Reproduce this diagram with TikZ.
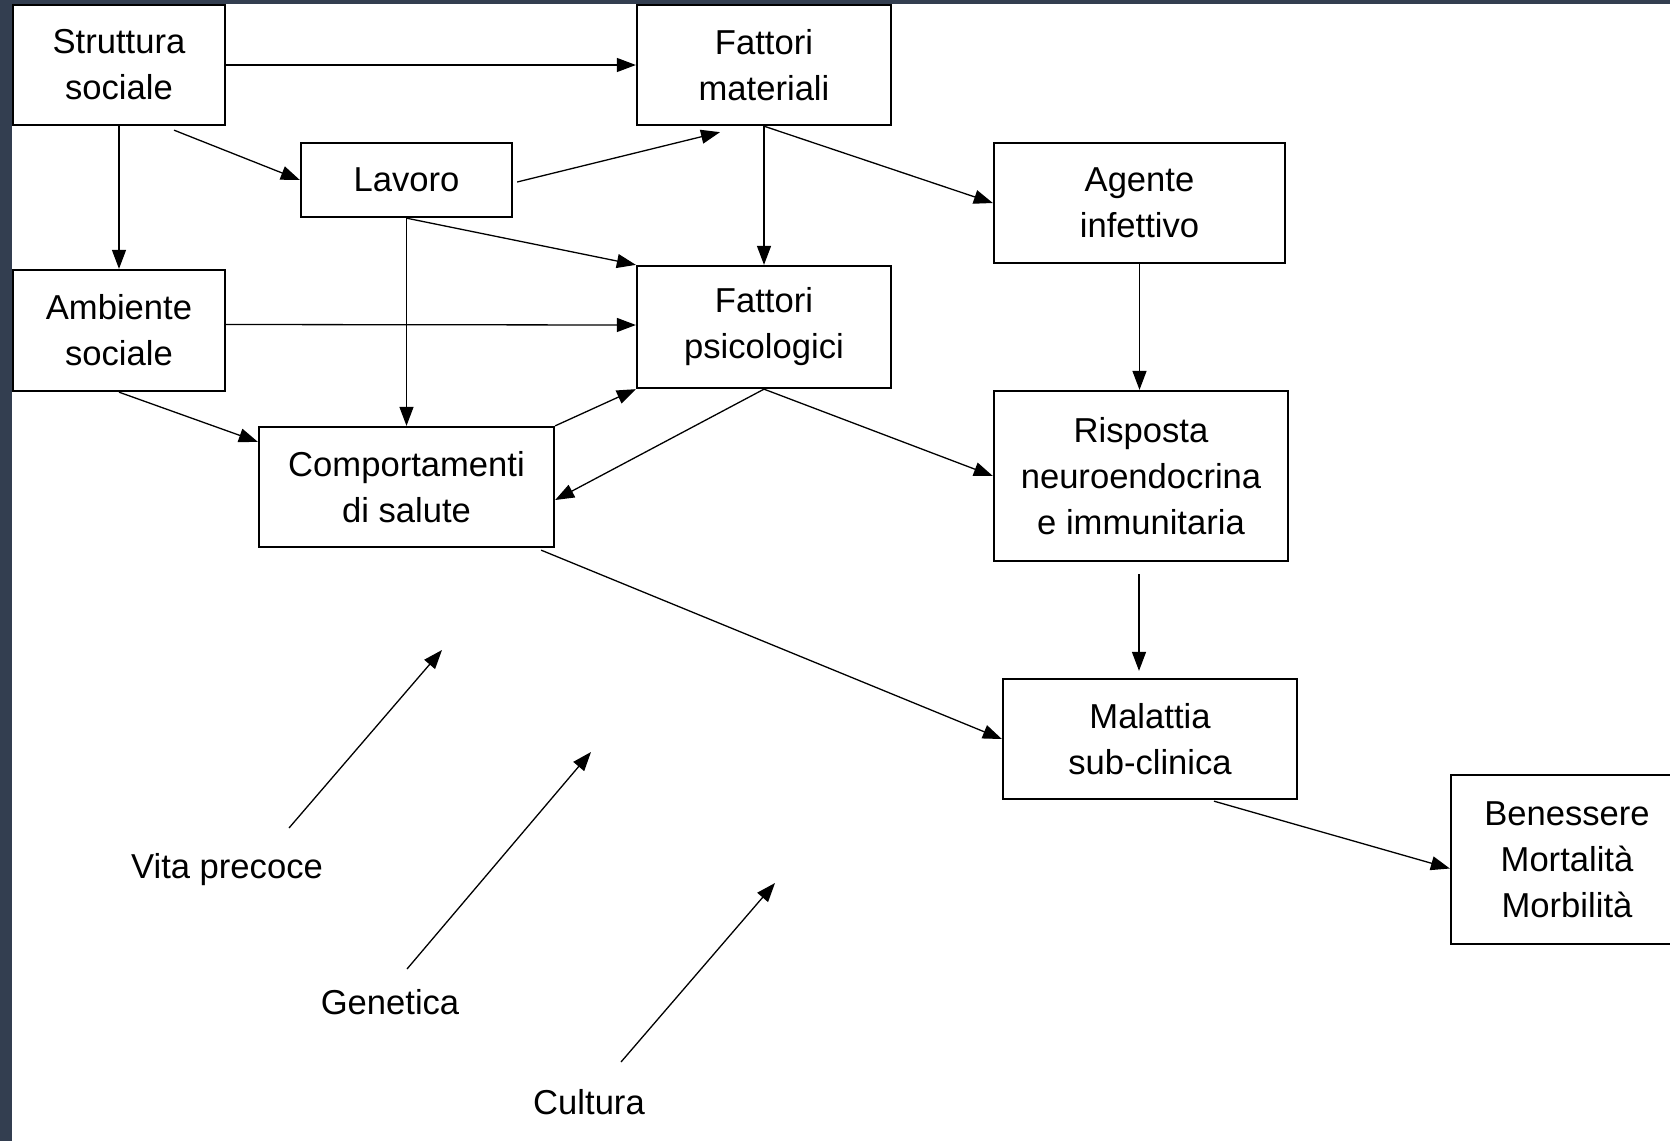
\documentclass[tikz,border=0pt]{standalone}
\usepackage{fontspec}
\setmainfont{Liberation Sans}
\usetikzlibrary{arrows.meta,calc}
\definecolor{bandcol}{HTML}{333E50}
\begin{document}
\begin{tikzpicture}[x=1pt,y=-1pt,
  every node/.style={font=\fontsize{34.6}{46}\selectfont, align=center, inner sep=0pt},
  box/.style={draw, line width=2.3pt, fill=white},
  conn/.style={line width=1.3pt, -{Triangle[length=19pt,width=14pt]}},
  lbl/.style={}]
\useasboundingbox (0,0) rectangle (1670,1141);
\fill[bandcol] (0,0) rectangle (1670,1141);
\fill[white] (12,4) rectangle (1670,1141);
\clip (12,0) rectangle (1670,1141);

\node[box, minimum width=212pt, minimum height=120pt] (ss) at (119,65) {Struttura\\sociale};
\node[box, minimum width=254pt, minimum height=120pt] (fm) at (764,65) {Fattori\\materiali};
\node[box, minimum width=211pt, minimum height=74pt] (lav) at (406.5,180) {Lavoro};
\node[box, minimum width=291pt, minimum height=120pt] (ag) at (1139.5,203) {Agente\\infettivo};
\node[box, minimum width=212pt, minimum height=121pt] (as) at (119,330.5) {Ambiente\\sociale};
\node[box, minimum width=254pt, minimum height=122pt] (fp) at (764,327) {Fattori\\psicologici};
\node[box, minimum width=295pt, minimum height=120pt] (cs) at (406.5,487) {Comportamenti\\di salute};
\node[box, minimum width=294pt, minimum height=170pt] (ri) at (1141,476) {Risposta\\neuroendocrina\\e immunitaria};
\node[box, minimum width=294pt, minimum height=120pt] (ma) at (1150,739) {Malattia\\sub-clinica};
\node[box, minimum width=232pt, minimum height=169pt] (be) at (1567,859.5) {Benessere\\Mortalità\\Morbilità};

\node[lbl] (vp) at (227,870) {Vita precoce};
\node[lbl] (ge) at (390,1002) {Genetica};
\node[lbl] (cu) at (589,1102) {Cultura};

\coordinate (vps) at (289,828);
\coordinate (vpe) at (442,650);
\coordinate (ges) at (407,969);
\coordinate (gee) at (591,752);
\coordinate (cus) at (621,1062);
\coordinate (cue) at (775,883);

\draw[conn] (ss.east) -- (fm.west);
\draw[conn] (ss.south) -- (as.north);
\draw[conn] ($(ss.south)+(55,4)$) -- (lav.west);
\draw[conn] ($(lav.east)+(4,2)$) -- ($(fm.south)+(-44,6)$);
\draw[conn] (lav.south) -- (fp.north west);
\draw[conn] (lav.south) -- (cs.north);
\draw[conn] (fm.south) -- (fp.north);
\draw[conn] (fm.south) -- (ag.west);
\draw[conn] ($(as.east)+(0,-6)$) -- ($(fp.west)+(0,-2)$);
\draw[conn] (as.south) -- ($(cs.north west)+(0,16)$);
\draw[conn] (cs.north east) -- (fp.south west);
\draw[conn] (fp.south) -- ($(cs.east)+(0,13)$);
\draw[conn] (fp.south) -- (ri.west);
\draw[conn] (ag.south) -- (ag.south |- ri.north);
\draw[conn] ($(ri.south)+(-2,12)$) -- ($(ma.north)+(-11,-7)$);
\draw[conn] ($(cs.south east)+(-14,2)$) -- (ma.west);
\draw[conn] ($(ma.south)+(64,1)$) -- ($(be.west)+(0,9)$);

\draw[conn] (vps) -- (vpe);
\draw[conn] (ges) -- (gee);
\draw[conn] (cus) -- (cue);
\end{tikzpicture}
\end{document}
